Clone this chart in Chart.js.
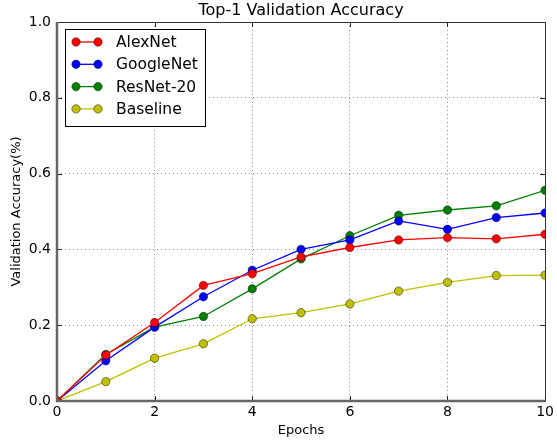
<!DOCTYPE html>
<html>
<head>
<meta charset="utf-8">
<script src="https://cdn.jsdelivr.net/npm/chart.js@4/dist/chart.umd.min.js"></script>
<style>
  html, body { margin:0; padding:0; background:#fff; }
  #wrap { width:557px; height:440px; position:relative; }
</style>
</head>
<body>
<div id="wrap"><canvas id="chart" width="557" height="440"></canvas></div>
<script>
// data
const epochs    = [0, 1, 2, 3, 4, 5, 6, 7, 8, 9, 10];
const alexnet   = [0, 0.121, 0.207, 0.305, 0.336, 0.380, 0.405, 0.425, 0.431, 0.428, 0.440];
const googlenet = [0, 0.106, 0.195, 0.275, 0.345, 0.400, 0.425, 0.475, 0.453, 0.484, 0.496];
const resnet20  = [0, 0.123, 0.195, 0.223, 0.296, 0.375, 0.436, 0.490, 0.504, 0.515, 0.556];
const baseline  = [0, 0.051, 0.113, 0.151, 0.217, 0.233, 0.256, 0.290, 0.313, 0.331, 0.332];
const xTicks = [0, 2, 4, 6, 8, 10];
const yTicks = [0, 0.2, 0.4, 0.6, 0.8, 1.0];

const FONT = "'DejaVu Sans', sans-serif";
const pts = (arr) => arr.map((v, i) => ({ x: epochs[i], y: v }));

function ds(label, data, color){
  return {
    label, data: pts(data),
    borderColor: color, backgroundColor: color,
    borderWidth: 1.3,
    pointRadius: 4.2, pointHoverRadius: 4.2,
    pointBorderColor: "rgba(0,0,0,0.55)", pointBorderWidth: 0.8,
    tension: 0
  };
}

// frame, inward ticks, title, axis titles, legend box
const decor = {
  id: "decor",
  afterDatasetsDraw(chart){
    const { ctx, chartArea: a, scales: { x, y } } = chart;
    ctx.save();
    // ticks inward
    ctx.strokeStyle = "#222"; ctx.lineWidth = 1;
    for(const t of xTicks){
      const px = Math.round(x.getPixelForValue(t)) + 0.5;
      ctx.beginPath();
      ctx.moveTo(px, a.bottom); ctx.lineTo(px, a.bottom - 5);
      ctx.moveTo(px, a.top); ctx.lineTo(px, a.top + 5);
      ctx.stroke();
    }
    for(const t of yTicks){
      const py = Math.round(y.getPixelForValue(t)) + 0.5;
      ctx.beginPath();
      ctx.moveTo(a.left, py); ctx.lineTo(a.left + 5, py);
      ctx.moveTo(a.right, py); ctx.lineTo(a.right - 5, py);
      ctx.stroke();
    }
    // frame
    ctx.strokeStyle = "#333"; ctx.lineWidth = 1;
    ctx.strokeRect(Math.round(a.left)+0.5, Math.round(a.top)+0.5, Math.round(a.right-a.left), Math.round(a.bottom-a.top));
    ctx.strokeStyle = "#666"; ctx.lineWidth = 2.5;
    ctx.beginPath();
    ctx.moveTo(a.left, a.top); ctx.lineTo(a.left, a.bottom); ctx.lineTo(a.right, a.bottom);
    ctx.stroke();

    // title + axis titles
    ctx.fillStyle = "#000";
    ctx.font = "16px " + FONT;
    ctx.textAlign = "center"; ctx.textBaseline = "middle";
    ctx.fillText("Top-1 Validation Accuracy", (a.left + a.right) / 2, 11);
    ctx.font = "13px " + FONT;
    ctx.fillText("Epochs", (a.left + a.right) / 2, 431);
    ctx.save();
    ctx.translate(17, (a.top + a.bottom) / 2);
    ctx.rotate(-Math.PI / 2);
    ctx.fillText("Validation Accuracy(%)", 0, 0);
    ctx.restore();

    // legend
    const lx = 65, ly = 29, lw = 140, lh = 97;
    ctx.fillStyle = "#fff";
    ctx.fillRect(lx, ly, lw, lh);
    ctx.strokeStyle = "#000"; ctx.lineWidth = 1;
    ctx.strokeRect(lx + 0.5, ly + 0.5, lw, lh);
    ctx.font = "15.5px " + FONT;
    ctx.textAlign = "left";
    chart.data.datasets.forEach((d, i) => {
      const cy = ly + 13 + i * 22.3;
      ctx.strokeStyle = d.borderColor; ctx.lineWidth = 1.3;
      ctx.beginPath(); ctx.moveTo(76, cy); ctx.lineTo(98, cy); ctx.stroke();
      for(const mx of [76, 98]){
        ctx.beginPath(); ctx.arc(mx, cy, 4.2, 0, Math.PI * 2);
        ctx.fillStyle = d.backgroundColor; ctx.fill();
        ctx.strokeStyle = "rgba(0,0,0,0.55)"; ctx.lineWidth = 0.8; ctx.stroke();
      }
      ctx.fillStyle = "#000";
      ctx.fillText(d.label, 116, cy + 1);
    });
    ctx.restore();
  }
};

new Chart(document.getElementById("chart").getContext("2d"), {
  type: "line",
  data: {
    datasets: [
      ds("AlexNet", alexnet, "#ff0000"),
      ds("GoogleNet", googlenet, "#0000ff"),
      ds("ResNet-20", resnet20, "#008000"),
      ds("Baseline", baseline, "#bfbf00")
    ]
  },
  options: {
    responsive: false,
    animation: false,
    events: [],
    layout: { padding: { top: 22, right: 11, left: 0, bottom: 0 } },
    plugins: { legend: { display: false }, title: { display: false }, tooltip: { enabled: false } },
    scales: {
      x: {
        type: "linear", min: 0, max: 10,
        afterBuildTicks: (s) => { s.ticks = xTicks.map(v => ({ value: v })); },
        afterFit: (s) => { s.height = 39; },
        ticks: { color: "#000", font: { family: FONT, size: 14 }, padding: 3, maxRotation: 0 },
        grid: { color: "#888", drawTicks: false, lineWidth: 1 },
        border: { display: false, dash: [1, 3] }
      },
      y: {
        type: "linear", min: 0, max: 1,
        afterBuildTicks: (s) => { s.ticks = yTicks.map(v => ({ value: v })); },
        afterFit: (s) => { s.width = 57; },
        ticks: { color: "#000", font: { family: FONT, size: 14 }, padding: 6, callback: (v) => v.toFixed(1) },
        grid: { color: "#888", drawTicks: false, lineWidth: 1 },
        border: { display: false, dash: [1, 3] }
      }
    }
  },
  plugins: [decor]
});
</script>
</body>
</html>
